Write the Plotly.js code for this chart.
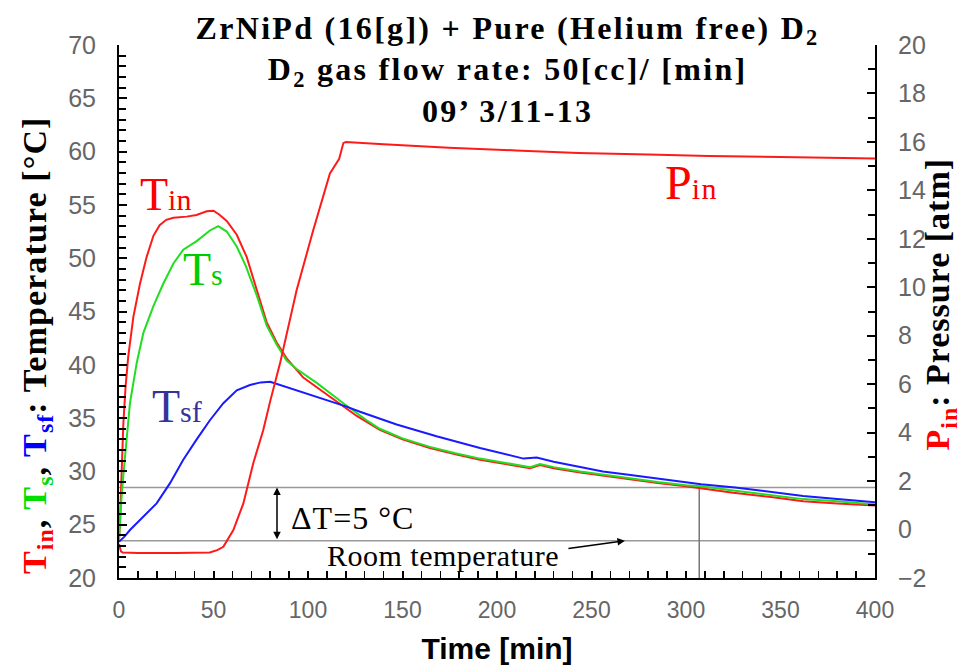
<!DOCTYPE html>
<html>
<head>
<meta charset="utf-8">
<script src="https://cdn.plot.ly/plotly-3.0.1.min.js"></script>
<style>html,body{margin:0;padding:0;background:#fff;}#chart{width:968px;height:668px;}</style>
</head>
<body>
<div id="chart"></div>
<script>
// ---- Data (time in minutes) ----
const tinTime = [0, 0.5, 1.4, 2.3, 3.5, 4.9, 7.6, 11.1, 14.6, 18.2, 21.5, 25, 28.8, 35.8, 41, 46.4, 50, 53, 57, 62.3, 67.6, 72.9, 78.1, 83.4, 88.7, 97.5, 106.3, 115.2, 125.8, 138, 150, 164.5, 178, 191, 205, 217.5, 222.8, 230, 244, 256, 268.6, 285, 300, 308, 325, 345, 362, 380, 400];
const tinTemp = [23.6, 25.2, 29.9, 34.5, 38.0, 40.8, 44.5, 47.6, 50.1, 52.1, 53.1, 53.6, 53.8, 53.9, 54.05, 54.4, 54.45, 54.1, 53.5, 52.2, 50.1, 47.1, 44.0, 42.1, 40.6, 38.8, 37.7, 36.6, 35.2, 33.9, 33.0, 32.2, 31.6, 31.1, 30.7, 30.3, 30.6, 30.3, 29.9, 29.6, 29.3, 28.9, 28.6, 28.4, 28.0, 27.6, 27.2, 27.0, 26.8];

const tsTime = [0, 0.5, 1.5, 3.2, 5.8, 9.4, 12.9, 18.2, 23.4, 28.8, 34, 41.1, 48.1, 52.5, 57, 62.3, 67, 72.9, 78.1, 83.4, 88.7, 94, 104.6, 118.7, 131, 138, 150, 164.5, 178, 191, 205, 217.5, 222.8, 230, 244, 256, 268.6, 285, 300, 308, 325, 345, 362, 380, 400];
const tsTemp = [23.6, 25.0, 28.0, 31.4, 36.4, 40.2, 43.0, 45.5, 47.6, 49.5, 50.8, 51.6, 52.6, 53.0, 52.5, 51.1, 49.3, 46.5, 43.7, 41.9, 40.4, 39.6, 38.3, 36.4, 34.8, 34.0, 33.1, 32.3, 31.7, 31.2, 30.8, 30.4, 30.7, 30.4, 30.0, 29.7, 29.4, 29.0, 28.7, 28.6, 28.2, 27.8, 27.4, 27.2, 26.9];

const tsfTime = [0, 3, 5.8, 12.9, 19.9, 27, 34, 41.1, 48.1, 55.2, 62.3, 69.3, 75, 80, 85.2, 94, 102.8, 113.4, 120, 127.5, 146.9, 168, 191, 214, 221, 230, 244, 256, 268.6, 285, 308, 326, 345, 362, 380, 400];
const tsfTemp = [23.4, 23.9, 24.5, 25.8, 27.0, 28.9, 31.1, 33.0, 34.8, 36.4, 37.6, 38.1, 38.35, 38.4, 38.1, 37.6, 37.1, 36.5, 36.1, 35.6, 34.4, 33.3, 32.2, 31.2, 31.3, 30.9, 30.4, 30.0, 29.7, 29.3, 28.8, 28.5, 28.1, 27.7, 27.4, 27.1];

const pinTime = [0, 1, 2, 10, 30, 48, 52, 55.2, 60.5, 65.8, 71, 76.3, 80, 85.2, 94, 102.8, 111.6, 115.2, 116.5, 118.7, 120, 140, 174.5, 210, 243, 280, 312, 350, 400];
const pinPress = [-0.6, -0.9, -0.95, -0.97, -0.97, -0.95, -0.85, -0.71, -0.02, 1.08, 2.73, 4.1, 5.3, 6.86, 9.89, 12.36, 14.7, 15.12, 15.3, 15.95, 16.0, 15.9, 15.76, 15.65, 15.54, 15.48, 15.42, 15.38, 15.32];

// reference lines
const roomTemp = 23.5;
const deltaT = 5;
const markTime = 307;

const tickColor = '#666';
const serif = 'Liberation Serif, Times New Roman, serif';
const sans = 'Liberation Sans, Arial, sans-serif';

const traces = [
  {x: tinTime, y: tinTemp, mode: 'lines', line: {color: '#ff1a1a', width: 2}, name: 'Tin', yaxis: 'y'},
  {x: tsTime, y: tsTemp, mode: 'lines', line: {color: '#22dd22', width: 2}, name: 'Ts', yaxis: 'y'},
  {x: tsfTime, y: tsfTemp, mode: 'lines', line: {color: '#1a1aff', width: 2}, name: 'Tsf', yaxis: 'y'},
  {x: pinTime, y: pinPress, mode: 'lines', line: {color: '#ff1a1a', width: 2}, name: 'Pin', yaxis: 'y2'}
];

const ls = 'letter-spacing:2.3px';
const labelSub = 'font-size:30px';
const layout = {
  width: 968, height: 668,
  margin: {l: 119, r: 93, t: 45, b: 90},
  paper_bgcolor: '#fff', plot_bgcolor: '#fff',
  showlegend: false,
  title: {
    text: '<b><span style="' + ls + '">ZrNiPd (16[g]) + Pure (Helium free) D<sub>2</sub></span><br><span style="' + ls + '">D<sub>2</sub> gas flow rate: 50[cc]/ [min]</span><br><span style="' + ls + '">09’ 3/11-13</span></b>',
    font: {family: serif, size: 32, color: '#000'},
    xref: 'paper', x: 0.514, xanchor: 'center',
    yref: 'container', y: 0.942, yanchor: 'top'
  },
  xaxis: {
    range: [0, 400], tick0: 0, dtick: 50,
    ticks: 'inside', ticklen: 7, tickwidth: 2, tickcolor: '#000',
    minor: {dtick: 10, ticks: 'inside', ticklen: 7, tickwidth: 1.5, tickcolor: '#000', showgrid: false},
    showline: true, linecolor: '#000', linewidth: 2,
    showgrid: false, zeroline: false,
    tickfont: {family: sans, size: 23, color: tickColor},
    ticklabelstandoff: 10,
    title: {text: '<b>Time [min]</b>', font: {family: sans, size: 30, color: '#000'}, standoff: 16}
  },
  yaxis: {
    range: [20, 70], tick0: 20, dtick: 5,
    ticks: 'inside', ticklen: 8, tickwidth: 2, tickcolor: '#000',
    minor: {dtick: 1, ticks: 'inside', ticklen: 7, tickwidth: 2, tickcolor: '#000', showgrid: false},
    showline: true, linecolor: '#000', linewidth: 2,
    showgrid: false, zeroline: false,
    tickfont: {family: sans, size: 25, color: tickColor},
    ticklabelstandoff: 16
  },
  yaxis2: {
    range: [-2, 20], tick0: -2, dtick: 2, overlaying: 'y', side: 'right',
    ticks: 'inside', ticklen: 8, tickwidth: 2, tickcolor: '#000',
    minor: {dtick: 1, ticks: 'inside', ticklen: 7, tickwidth: 2, tickcolor: '#000', showgrid: false},
    showline: true, linecolor: '#000', linewidth: 2,
    showgrid: false, zeroline: false,
    tickfont: {family: sans, size: 25, color: tickColor},
    ticklabelstandoff: 16
  },
  shapes: [
    {type: 'line', xref: 'paper', x0: 0, x1: 1, yref: 'y', y0: roomTemp + deltaT, y1: roomTemp + deltaT, line: {color: '#999', width: 1.5}, layer: 'below'},
    {type: 'line', xref: 'paper', x0: 0, x1: 1, yref: 'y', y0: roomTemp, y1: roomTemp, line: {color: '#999', width: 1.5}, layer: 'below'},
    {type: 'line', xref: 'x', x0: markTime, x1: markTime, yref: 'y', y0: 20, y1: roomTemp + deltaT, line: {color: '#777', width: 1.5}, layer: 'below'}
  ],
  annotations: [
    {xref: 'paper', yref: 'paper', x: -0.1085, y: 0.437, xanchor: 'center', yanchor: 'middle', textangle: -90, showarrow: false,
     text: '<b><span style="letter-spacing:1.1px"><span style="color:#ff0000">T<sub>in</sub></span>, <span style="color:#00dd00">T<sub>s</sub></span>, <span style="color:#0000ff">T<sub>sf</sub></span>: Temperature [°C]</span></b>',
     font: {family: serif, size: 34, color: '#000'}},
    {xref: 'paper', yref: 'paper', x: 1.0866, y: 0.514, xanchor: 'center', yanchor: 'middle', textangle: -90, showarrow: false,
     text: '<b><span style="letter-spacing:1px"><span style="color:#ff0000">P<sub>in</sub></span>: Pressure [atm]</span></b>',
     font: {family: serif, size: 34, color: '#000'}},
    {xref: 'x', yref: 'y', x: 24.5, y: 56.0, showarrow: false, xanchor: 'center', yanchor: 'middle',
     text: 'T<span style="' + labelSub + '">in</span>', font: {family: serif, size: 46, color: '#ff0000'}},
    {xref: 'x', yref: 'y', x: 44.2, y: 48.9, showarrow: false, xanchor: 'center', yanchor: 'middle',
     text: 'T<span style="' + labelSub + '">s</span>', font: {family: serif, size: 46, color: '#00cc00'}},
    {xref: 'x', yref: 'y', x: 30.7, y: 36.1, showarrow: false, xanchor: 'center', yanchor: 'middle',
     text: 'T<span style="' + labelSub + '">sf</span>', font: {family: serif, size: 46, color: '#333399'}},
    {xref: 'x', yref: 'y', x: 303, y: 57.1, showarrow: false, xanchor: 'center', yanchor: 'middle',
     text: 'P<span style="' + labelSub + ';letter-spacing:1.5px">in</span>', font: {family: serif, size: 48, color: '#ff0000'}},
    {xref: 'x', yref: 'y', x: 83.6, y: roomTemp + deltaT, axref: 'x', ayref: 'y', ax: 83.6, ay: roomTemp,
     showarrow: true, arrowside: 'end+start', arrowhead: 2, arrowsize: 1, arrowwidth: 1.5, arrowcolor: '#000', text: ''},
    {xref: 'x', yref: 'y', x: 123.3, y: 25.6, showarrow: false, xanchor: 'center', yanchor: 'middle',
     text: '<span style="letter-spacing:1px">ΔT=5 °C</span>', font: {family: serif, size: 32, color: '#000'}},
    {xref: 'x', yref: 'y', x: 171.4, y: 22.15, showarrow: false, xanchor: 'center', yanchor: 'middle',
     text: '<span style="letter-spacing:0.5px">Room temperature</span>', font: {family: serif, size: 30, color: '#000'}},
    {xref: 'x', yref: 'y', x: 267.7, y: roomTemp, ax: -58, ay: 8, showarrow: true, arrowhead: 2, arrowsize: 1, arrowwidth: 1.5, arrowcolor: '#000', text: ''}
  ]
};

Plotly.newPlot('chart', traces, layout, {staticPlot: true, displayModeBar: false});
</script>
</body>
</html>
